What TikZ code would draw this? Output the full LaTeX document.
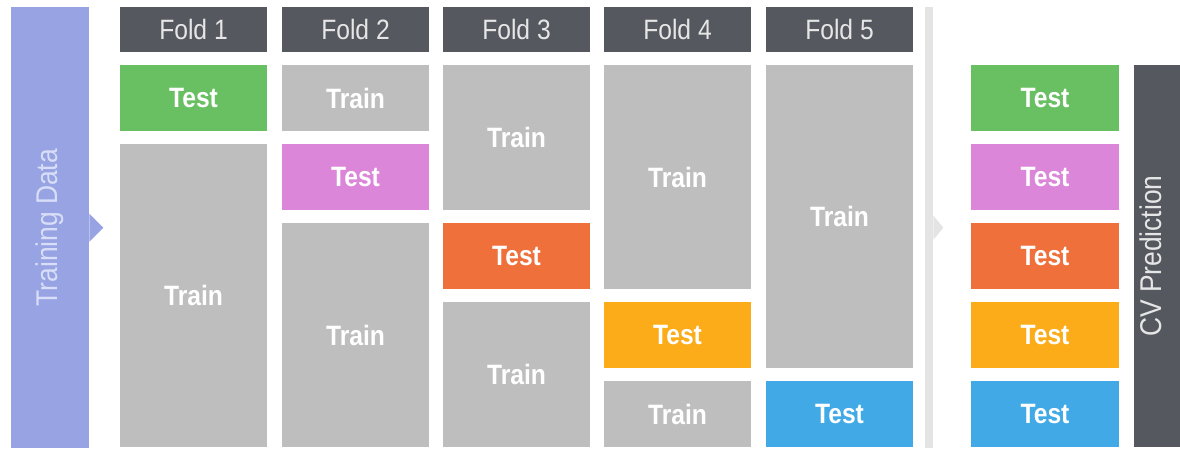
\documentclass[tikz,border=0pt]{standalone}
\usepackage{fontspec}
\setmainfont{Liberation Sans}[FakeStretch=0.88]
\usetikzlibrary{calc}

\definecolor{tdblue}{HTML}{97A3E2}
\definecolor{tdtext}{HTML}{D8DEF7}
\definecolor{hdrgray}{HTML}{55585F}
\definecolor{hdrtext}{HTML}{E6E6E6}
\definecolor{traingray}{HTML}{BEBEBE}
\definecolor{sepgray}{HTML}{E4E4E4}
\definecolor{tgreen}{HTML}{69C062}
\definecolor{tpink}{HTML}{DC86DA}
\definecolor{torange}{HTML}{EF703B}
\definecolor{tyellow}{HTML}{FBAC18}
\definecolor{tblue}{HTML}{41A9E5}

\tikzset{
  cell/.style={inner sep=0pt, outer sep=0pt, anchor=north west,
    minimum width=147pt, text=white,
    font=\fontsize{28}{30}\selectfont\bfseries},
  traincell/.style={cell, fill=traingray},
  testcell/.style={cell, fill=#1},
  foldhdr/.style={inner sep=0pt, outer sep=0pt, anchor=north west,
    minimum width=147pt, minimum height=45pt, fill=hdrgray, text=hdrtext,
    font=\fontsize{28}{30}\selectfont},
  sidelabel/.style={rotate=90, inner sep=0pt,
    font=\fontsize{30}{32}\selectfont},
}

\begin{document}
\begin{tikzpicture}[x=1pt, y=-1pt]
\useasboundingbox (0,0) rectangle (1180,450);

% Training data bar with its pointer
\node[fill=tdblue, inner sep=0pt, anchor=north west,
      minimum width=78pt, minimum height=441pt] (td) at (11,7) {};
\fill[tdblue] ($(td.east)+(0,-14)$) -- ($(td.east)+(14,0)$) -- ($(td.east)+(0,14)$) -- cycle;
\node[sidelabel, text=tdtext] (tdlabel) at (td.center) {Training Data};

% Fold headers
\node[foldhdr] (h1) at (120,7) {Fold 1};
\node[foldhdr] (h2) at (282,7) {Fold 2};
\node[foldhdr] (h3) at (443,7) {Fold 3};
\node[foldhdr] (h4) at (604,7) {Fold 4};
\node[foldhdr] (h5) at (766,7) {Fold 5};

% Fold 1
\node[testcell=tgreen, minimum height=66pt] (f1test) at (120,65) {Test};
\node[traincell, minimum height=303pt] (f1trainb) at (120,144) {Train};

% Fold 2
\node[traincell, minimum height=66pt] (f2traina) at (282,65) {Train};
\node[testcell=tpink, minimum height=66pt] (f2test) at (282,144) {Test};
\node[traincell, minimum height=224pt] (f2trainb) at (282,223) {Train};

% Fold 3
\node[traincell, minimum height=145pt] (f3traina) at (443,65) {Train};
\node[testcell=torange, minimum height=66pt] (f3test) at (443,223) {Test};
\node[traincell, minimum height=145pt] (f3trainb) at (443,302) {Train};

% Fold 4
\node[traincell, minimum height=224pt] (f4traina) at (604,65) {Train};
\node[testcell=tyellow, minimum height=66pt] (f4test) at (604,302) {Test};
\node[traincell, minimum height=66pt] (f4trainb) at (604,381) {Train};

% Fold 5
\node[traincell, minimum height=303pt] (f5traina) at (766,65) {Train};
\node[testcell=tblue, minimum height=66pt] (f5test) at (766,381) {Test};

% Separator with its pointer
\node[fill=sepgray, inner sep=0pt, anchor=north west,
      minimum width=8pt, minimum height=441pt] (sep) at (925,7) {};
\fill[sepgray] ($(sep.east)+(0,-12)$) -- ($(sep.east)+(10,0)$) -- ($(sep.east)+(0,12)$) -- cycle;

% Collected predictions
\node[testcell=tgreen,  minimum width=148pt, minimum height=66pt] (p1) at (971,65)  {Test};
\node[testcell=tpink,   minimum width=148pt, minimum height=66pt] (p2) at (971,144) {Test};
\node[testcell=torange, minimum width=148pt, minimum height=66pt] (p3) at (971,223) {Test};
\node[testcell=tyellow, minimum width=148pt, minimum height=66pt] (p4) at (971,302) {Test};
\node[testcell=tblue,   minimum width=148pt, minimum height=66pt] (p5) at (971,381) {Test};

% CV prediction bar
\node[fill=hdrgray, inner sep=0pt, anchor=north west,
      minimum width=46pt, minimum height=382pt] (cv) at (1134,65) {};
\node[sidelabel, text=hdrtext] (cvlabel) at ($(cv.center)+(-6,0)$) {CV Prediction};

\end{tikzpicture}
\end{document}
